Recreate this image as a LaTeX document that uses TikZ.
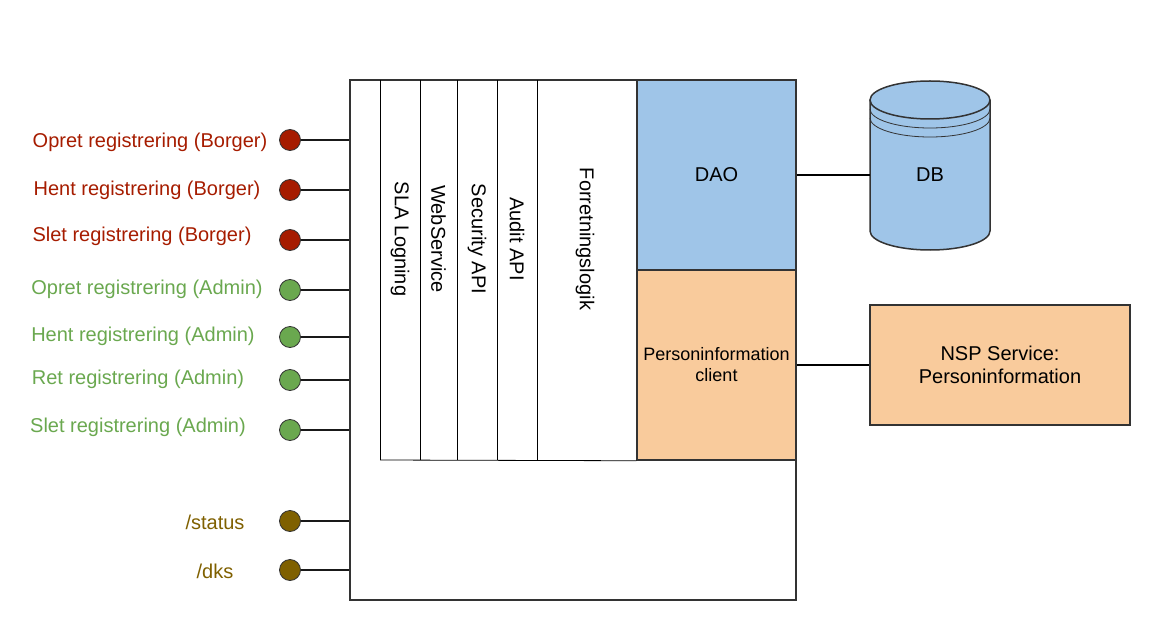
\documentclass[tikz,border=0pt]{standalone}
\usepackage{fontspec}
\setmainfont{Liberation Sans}
\definecolor{borgerred}{HTML}{A61C00}
\definecolor{admingreen}{HTML}{6AA84F}
\definecolor{opsbrown}{HTML}{7F6000}
\definecolor{daoblue}{HTML}{9FC5E8}
\definecolor{pcorange}{HTML}{F9CB9C}
\definecolor{edge}{HTML}{333333}
\begin{document}
\begin{tikzpicture}[x=1pt,y=-1pt,font=\fontsize{20}{23}\selectfont,
  port/.style={circle,draw=black!80,line width=0.8pt,minimum size=21pt,inner sep=0pt},
  conn/.style={draw=black!90,line width=1.6pt},
  link/.style={draw=black,line width=1.5pt},
  box/.style={draw=edge,line width=1.5pt,rectangle,inner sep=0pt,align=center},
  coltext/.style={rotate=-90,inner sep=0pt},
  collabel/.style={inner sep=0pt},
  colline/.style={draw=black,line width=0.8pt}]
\useasboundingbox (0,0) rectangle (1150,620);

% main system box
\node[box,minimum width=446pt,minimum height=520pt] (sys) at (573,340) {};
\node[box,fill=daoblue,minimum width=159pt,minimum height=190pt] (dao) at (716.5,175) {DAO};
\node[box,fill=pcorange,minimum width=159pt,minimum height=190pt,font=\fontsize{18}{21}\selectfont] (pic) at (716.5,365) {Personinformation\\client};

% columns
\coordinate (c1t) at (380,80); \coordinate (c1b) at (380,460);
\coordinate (c2t) at (420,80); \coordinate (c2b) at (420,460);
\coordinate (c3t) at (457,80); \coordinate (c3b) at (457,460);
\coordinate (c4t) at (497,80); \coordinate (c4b) at (497,460);
\coordinate (c5t) at (537,80); \coordinate (c5b) at (537,460);
\draw[colline] (c1t) -- (c1b);
\draw[colline] (c2t) -- (c2b);
\draw[colline] (c3t) -- (c3b);
\draw[colline] (c4t) -- (c4b);
\draw[colline] (c5t) -- (c5b);
\draw[colline] (c1b) -- (pic.south west);
\node[coltext] (sla) at (400,239) {SLA Logning};
\node[coltext] (ws) at (438.5,239) {WebService};
\node[coltext] (sec) at (477,239) {Security API};
\node[coltext] (aud) at (517,239) {Audit API};
\node[coltext] (fl) at (585,239) {Forretningslogik};

% DB cylinder
\fill[daoblue] (870,100) -- (870,231) arc[start angle=180,end angle=0,x radius=60,y radius=19] -- (990,100) arc[start angle=0,end angle=-180,x radius=60,y radius=19] -- cycle;
\draw[draw=edge,line width=1.5pt] (930,100) ellipse[x radius=60,y radius=19];
\draw[draw=edge,line width=1.5pt] (870,100) -- (870,231) arc[start angle=180,end angle=0,x radius=60,y radius=19] -- (990,100);
\draw[draw=edge,line width=0.8pt] (870,109) arc[start angle=180,end angle=0,x radius=60,y radius=19];
\draw[draw=edge,line width=0.8pt] (870,118) arc[start angle=180,end angle=0,x radius=60,y radius=19];
\node[collabel] (db) at (930,175) {DB};
\coordinate (dbw) at (870,175);

% NSP service
\node[box,fill=pcorange,minimum width=260pt,minimum height=120pt] (nsp) at (1000,365) {NSP Service:\\Personinformation};

\draw[link] (dao.east) -- (dbw);
\draw[link] (pic.east) -- (nsp.west);

% ports
\node[port,fill=borgerred] (p1) at (290,140) {};
\node[port,fill=borgerred] (p2) at (290,190) {};
\node[port,fill=borgerred] (p3) at (290,240) {};
\node[port,fill=admingreen] (p4) at (290,290) {};
\node[port,fill=admingreen] (p5) at (290,337) {};
\node[port,fill=admingreen] (p6) at (290,380) {};
\node[port,fill=admingreen] (p7) at (290,430) {};
\node[port,fill=opsbrown] (p8) at (290,521) {};
\node[port,fill=opsbrown] (p9) at (290,570) {};
\foreach \p in {p1,p2,p3,p4,p5,p6,p7,p8,p9}{
  \draw[conn] (\p.east) -- (\p.east -| sys.west);
}

% labels
\node[collabel,text=borgerred] (l1) at (150,142) {Opret registrering (Borger)};
\node[collabel,text=borgerred] (l2) at (147,190) {Hent registrering (Borger)};
\node[collabel,text=borgerred] (l3) at (142,236) {Slet registrering (Borger)};
\node[collabel,text=admingreen] (l4) at (147,289) {Opret registrering (Admin)};
\node[collabel,text=admingreen] (l5) at (143,336) {Hent registrering (Admin)};
\node[collabel,text=admingreen] (l6) at (138,379) {Ret registrering (Admin)};
\node[collabel,text=admingreen] (l7) at (138,427) {Slet registrering (Admin)};
\node[collabel,text=opsbrown] (l8) at (215,522) {/status};
\node[collabel,text=opsbrown] (l9) at (215,571) {/dks};
\end{tikzpicture}
\end{document}
